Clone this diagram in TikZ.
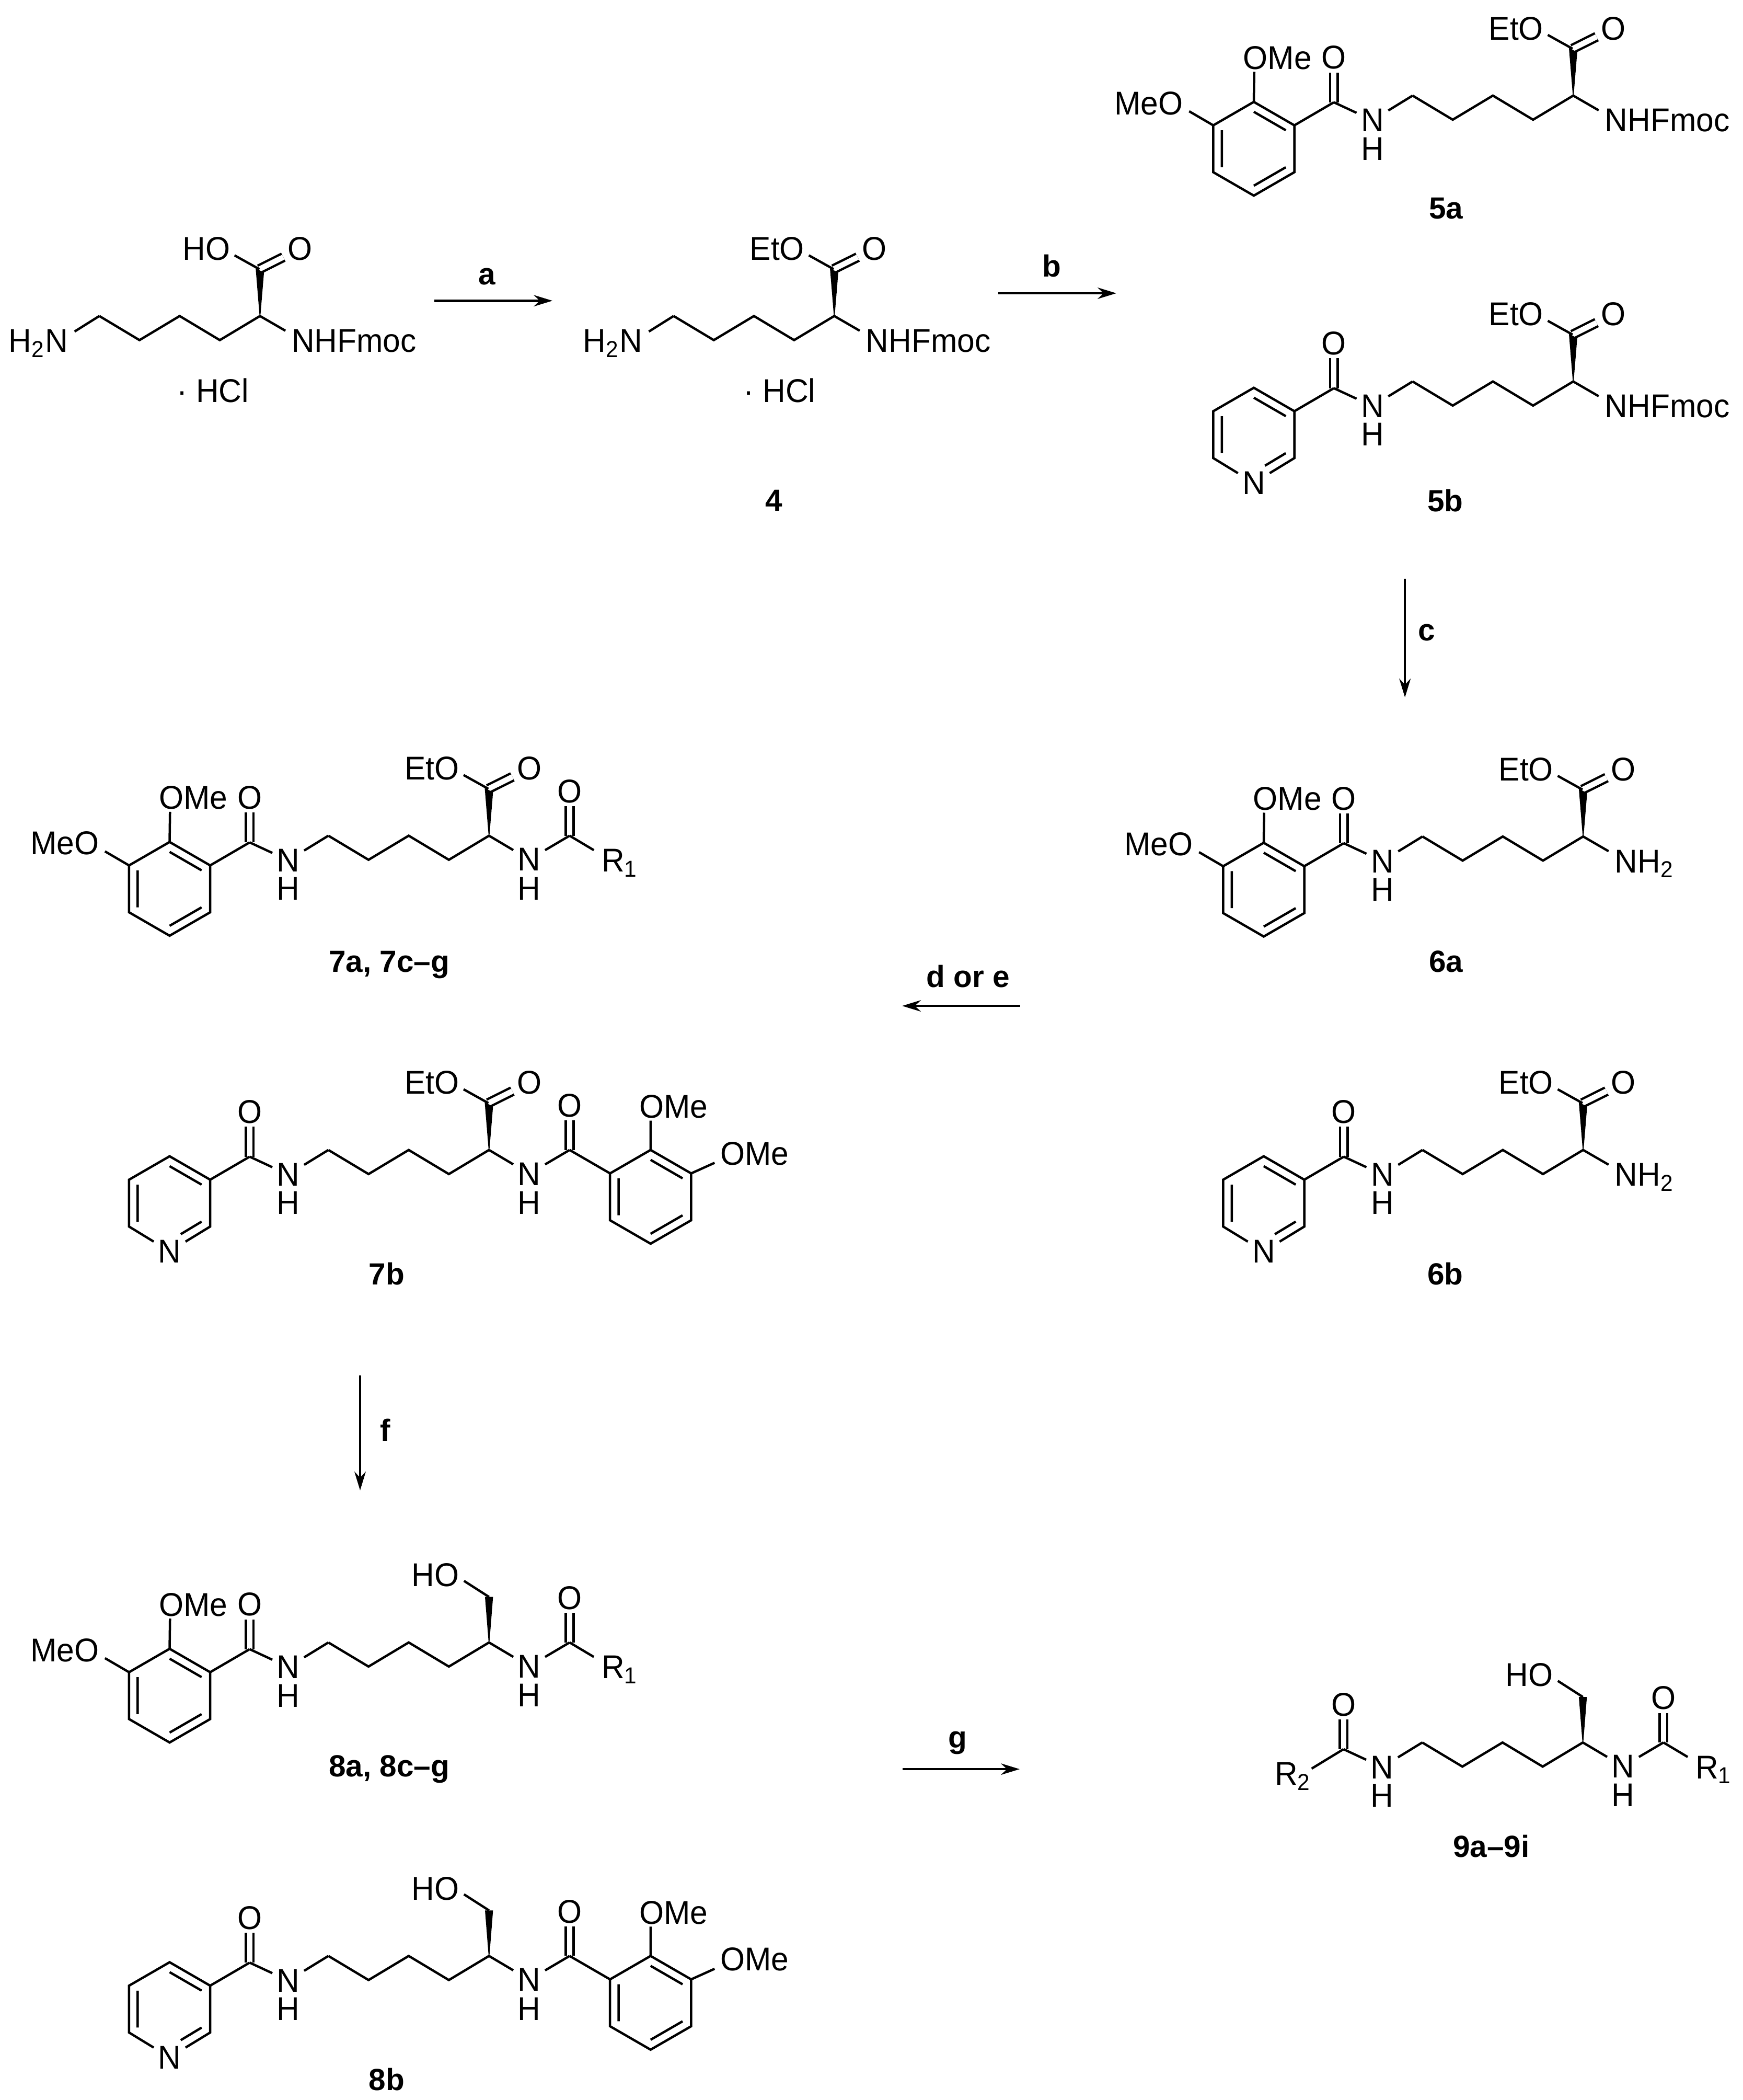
\documentclass[tikz,border=0pt]{standalone}
\usepackage{fontspec}
\setmainfont{Liberation Sans}
\newfontfamily\atomfam[FakeStretch=.96]{Liberation Sans}
\usetikzlibrary{arrows.meta}
\newcommand{\atomfont}{\atomfam\fontsize{14}{16}\selectfont}
\newcommand{\cpdfont}{\fontsize{13}{16}\selectfont\bfseries}
\tikzset{
	atomlab/.style={font=\atomfont, inner sep=0pt, text height=.34cm, text depth=0pt},
	atom/.style={atomlab, inner xsep=.06cm, inner ysep=.045cm},
	cpdlabel/.style={font=\cpdfont, inner sep=0pt, anchor=base},
	bond/.style={line width=1pt},
	dblbond/.style={line width=1pt, double, double distance=.08cm},
	react/.style={line width=1pt, -{Stealth[length=.28cm,width=.17cm]}},
	% rings, origin at the ring centre
	pics/benzring/.style={code={
		\coordinate (-t) at (0,-35); \coordinate (-ur) at (30.3,-17.5);
		\coordinate (-lr) at (30.3,17.5); \coordinate (-b) at (0,35);
		\coordinate (-ll) at (-30.3,17.5); \coordinate (-ul) at (-30.3,-17.5);
		\draw[bond] (-ul) -- (-t) -- (-ur) -- (-lr) -- (-b) -- (-ll) -- cycle;
		\draw[bond] (0,-27.6) -- (23.9,-13.8) (23.9,13.8) -- (0,27.6) (-23.9,13.8) -- (-23.9,-13.8);
	}},
	pics/pyrring/.style={code={
		\coordinate (-t) at (0,-35); \coordinate (-ur) at (30.3,-17.5);
		\coordinate (-lr) at (30.3,17.5); \coordinate (-ll) at (-30.3,17.5);
		\coordinate (-ul) at (-30.3,-17.5);
		\node[atom] (-n) at (0,36) {N};
		\draw[bond] (-n) -- (-ll) -- (-ul) -- (-t) -- (-ur) -- (-lr) -- (-n);
		\draw[bond] (0,-27.6) -- (23.9,-13.8) (23.9,13.8) -- (8.3,23.2) (-23.9,13.8) -- (-23.9,-13.8);
	}},
	% everything below has its origin at the stereo carbon
	pics/lyschain/.style={code={
		\draw[bond] (0,0) -- (-30,18) -- (-60,0) -- (-90,18) -- (-120,0);
	}},
	pics/estertop/.style={code={
		\coordinate (-c) at (-.5,-35);
		\coordinate (-oe) at (-19,-45.3);
		\node[atom] (-o) at (30,-50.2) {O};
		\node[atomlab,anchor=east] (-et) at (-22,-50.2) {#1};
		\draw[dblbond] (-c) -- (-o);
		\draw[bond] (-c) -- (-oe);
		\fill (-.3,0) -- (-3.2,-35.5) -- (3,-32.5) -- (.3,0) -- cycle;
	}},
	pics/hydroxytop/.style={code={
		\coordinate (-c) at (0,-34);
		\coordinate (-oe) at (-18.7,-46);
		\node[atomlab,anchor=east] (-ho) at (-22,-50.4) {HO};
		\draw[bond] (-c) -- (-oe);
		\fill (-.3,0) -- (-3,-34) -- (3,-34) -- (.3,0) -- cycle;
	}},
	pics/amineend/.style={code={
		\coordinate (-k) at (19,11);
		\node[atomlab,anchor=west] (-nh) at (23.3,18.4) {#1};
		\draw[bond] (0,0) -- (-k);
	}},
	pics/amineleft/.style={code={
		\coordinate (-a) at (-120,0);
		\coordinate (-k) at (-138.5,11.6);
		\node[atomlab,anchor=east] (-hn) at (-143.1,18.6) {H\textsubscript{2}N};
		\draw[bond] (-a) -- (-k);
	}},
	pics/amidecore/.style={code={
		\coordinate (-a) at (-120,0);
		\coordinate (-c) at (-178.8,5);
		\node[atom] (-n) at (-150,18.4) {N};
		\node[atomlab] (-h) at (-150,39.6) {H};
		\node[atom] (-o) at (-178.8,-28.4) {O};
		\draw[dblbond] (-c) -- (-o);
		\draw[bond] (-a) -- (-n) -- (-c);
	}},
	pics/anisleft/.style={code={
		\pic (-am) {amidecore};
		\pic (-r) at (-238.6,39.7) {benzring};
		\coordinate (-k1) at (-286.9,11.7);
		\coordinate (-k2) at (-238.3,-17.8);
		\node[atomlab,anchor=east] (-meo) at (-291.1,5.7) {MeO};
		\node[atomlab,anchor=west] (-ome) at (-246.9,-28.3) {OMe};
		\draw[bond] (-am-c) -- (-r-ur) (-r-ul) -- (-k1) (-r-t) -- (-k2);
	}},
	pics/pyrleft/.style={code={
		\pic (-am) {amidecore};
		\pic (-r) at (-238.6,39.7) {pyrring};
		\draw[bond] (-am-c) -- (-r-ur);
	}},
	pics/amideright/.style={code={
		\coordinate (-a) at (0,0);
		\coordinate (-c) at (60.2,0);
		\node[atom] (-n) at (30,17.8) {N};
		\node[atomlab] (-h) at (30,39.4) {H};
		\node[atom] (-o) at (60.2,-33.2) {O};
		\draw[dblbond] (-c) -- (-o);
		\draw[bond] (-a) -- (-n) -- (-c);
	}},
	pics/rright/.style={code={
		\pic (-am) {amideright};
		\coordinate (-k) at (78.3,10.8);
		\node[atomlab,anchor=west] (-r) at (83.8,18.4) {R\textsubscript{1}};
		\draw[bond] (-am-c) -- (-k);
	}},
	pics/anisright/.style={code={
		\pic (-am) {amideright};
		\pic (-r) at (120.7,35) {benzring};
		\coordinate (-k1) at (168.5,9.6);
		\coordinate (-k2) at (120.7,-21.9);
		\node[atomlab,anchor=west] (-ome1) at (112,-32.3) {OMe};
		\node[atomlab,anchor=west] (-ome2) at (172.5,2.6) {OMe};
		\draw[bond] (-am-c) -- (-r-ul) (-r-ur) -- (-k1) (-r-t) -- (-k2);
	}},
}
\begin{document}
\begin{tikzpicture}[x=.02cm,y=-.02cm]
	\useasboundingbox (0,0) rectangle (1302,1568.3);
	% starting acid
	\coordinate (s1) at (194.2,236);
	\pic (l1) at (s1) {amineleft};
	\pic (c1) at (s1) {lyschain};
	\pic (t1) at (s1) {estertop=HO};
	\pic (e1) at (s1) {amineend=NHFmoc};
	\node[atomlab,anchor=west] (hcl1) at (131.7,292) {\textperiodcentered\ HCl};
	% 4
	\coordinate (s4) at (623.2,236);
	\pic (l4) at (s4) {amineleft};
	\pic (c4) at (s4) {lyschain};
	\pic (t4) at (s4) {estertop=EtO};
	\pic (e4) at (s4) {amineend=NHFmoc};
	\node[atomlab,anchor=west] (hcl4) at (555,292) {\textperiodcentered\ HCl};
	\node[cpdlabel] (lab4) at (578,381.5) {4};
	% 5a
	\coordinate (s5a) at (1175.2,71.4);
	\pic (l5a) at (s5a) {anisleft};
	\pic (c5a) at (s5a) {lyschain};
	\pic (t5a) at (s5a) {estertop=EtO};
	\pic (e5a) at (s5a) {amineend=NHFmoc};
	\node[cpdlabel] (lab5a) at (1080.2,163.4) {5a};
	% 5b
	\coordinate (s5b) at (1175.2,284.9);
	\pic (l5b) at (s5b) {pyrleft};
	\pic (c5b) at (s5b) {lyschain};
	\pic (t5b) at (s5b) {estertop=EtO};
	\pic (e5b) at (s5b) {amineend=NHFmoc};
	\node[cpdlabel] (lab5b) at (1079.6,382.2) {5b};
	% 6a
	\coordinate (s6a) at (1182.6,624.7);
	\pic (l6a) at (s6a) {anisleft};
	\pic (c6a) at (s6a) {lyschain};
	\pic (t6a) at (s6a) {estertop=EtO};
	\pic (e6a) at (s6a) {amineend={NH\textsubscript{2}}};
	\node[cpdlabel] (lab6a) at (1080.2,726) {6a};
	% 6b
	\coordinate (s6b) at (1182.6,858.8);
	\pic (l6b) at (s6b) {pyrleft};
	\pic (c6b) at (s6b) {lyschain};
	\pic (t6b) at (s6b) {estertop=EtO};
	\pic (e6b) at (s6b) {amineend={NH\textsubscript{2}}};
	\node[cpdlabel] (lab6b) at (1079.6,959.4) {6b};
	% 7a
	\coordinate (s7a) at (365.3,624.1);
	\pic (l7a) at (s7a) {anisleft};
	\pic (c7a) at (s7a) {lyschain};
	\pic (t7a) at (s7a) {estertop=EtO};
	\pic (e7a) at (s7a) {rright};
	\node[cpdlabel] (lab7a) at (290.8,726) {7a, 7c--g};
	% 7b
	\coordinate (s7b) at (365.3,858.8);
	\pic (l7b) at (s7b) {pyrleft};
	\pic (c7b) at (s7b) {lyschain};
	\pic (t7b) at (s7b) {estertop=EtO};
	\pic (e7b) at (s7b) {anisright};
	\node[cpdlabel] (lab7b) at (288.8,959.4) {7b};
	% 8a
	\coordinate (s8a) at (365.3,1226.6);
	\pic (l8a) at (s8a) {anisleft};
	\pic (c8a) at (s8a) {lyschain};
	\pic (t8a) at (s8a) {hydroxytop};
	\pic (e8a) at (s8a) {rright};
	\node[cpdlabel] (lab8a) at (290.8,1327) {8a, 8c--g};
	% 8b
	\coordinate (s8b) at (365.3,1460.7);
	\pic (l8b) at (s8b) {pyrleft};
	\pic (c8b) at (s8b) {lyschain};
	\pic (t8b) at (s8b) {hydroxytop};
	\pic (e8b) at (s8b) {anisright};
	\node[cpdlabel] (lab8b) at (288.8,1560.9) {8b};
	% 9
	\coordinate (s9) at (1182.4,1301.3);
	\pic (l9) at (s9) {amidecore};
	\pic (c9) at (s9) {lyschain};
	\pic (t9) at (s9) {hydroxytop};
	\pic (e9) at (s9) {rright};
	\coordinate (k9) at (979.8,1320.8);
	\node[atomlab,anchor=east] (r9) at (979.8,1324.7) {R\textsubscript{2}};
	\draw[bond] (l9-c) -- (k9);
	\node[cpdlabel] (lab9) at (1114,1386.9) {9a--9i};
	% arrows
	\coordinate (a1) at (324.4,224.6);
	\coordinate (a2) at (412.7,224.6);
	\draw[react] (a1) -- (a2);
	\node[cpdlabel] (laba) at (363.8,212.5) {a};
	\coordinate (b1) at (745.6,219);
	\coordinate (b2) at (833.9,219);
	\draw[react] (b1) -- (b2);
	\node[cpdlabel] (labb) at (785.6,206.7) {b};
	\coordinate (c1s) at (1049.5,432.3);
	\coordinate (c2s) at (1049.5,520.8);
	\draw[react] (c1s) -- (c2s);
	\node[cpdlabel] (labc) at (1065.9,478.3) {c};
	\coordinate (d1) at (762,751.2);
	\coordinate (d2) at (673.9,751.2);
	\draw[react] (d1) -- (d2);
	\node[cpdlabel] (labd) at (723.2,737.1) {d or e};
	\coordinate (f1) at (269,1027);
	\coordinate (f2) at (269,1113);
	\draw[react] (f1) -- (f2);
	\node[cpdlabel] (labf) at (288,1076) {f};
	\coordinate (g1) at (674.4,1321.2);
	\coordinate (g2) at (761.7,1321.2);
	\draw[react] (g1) -- (g2);
	\node[cpdlabel] (labg) at (715.5,1305.2) {g};
\end{tikzpicture}
\end{document}
